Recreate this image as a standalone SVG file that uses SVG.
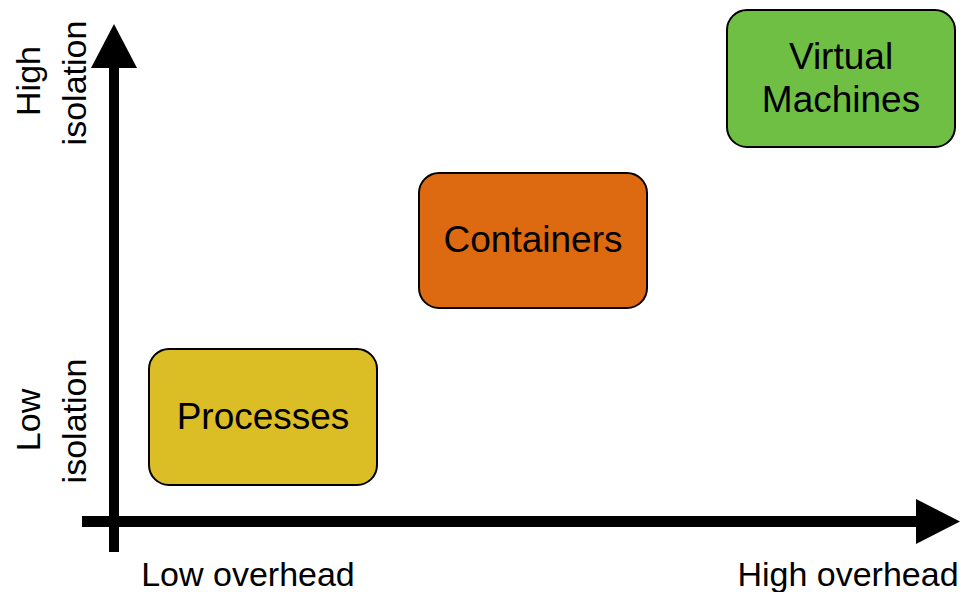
<svg xmlns="http://www.w3.org/2000/svg" width="963" height="592" viewBox="0 0 963 592">
<style>
.box{stroke:#000;stroke-width:2}
text{font-family:"Liberation Sans",Arial,sans-serif;fill:#000}
.lbl{font-size:37px;text-anchor:middle}
.ax{font-size:34px;text-anchor:middle}
</style>
<rect width="963" height="592" fill="#fff"/>
<g id="connectors">
<line x1="114" y1="552" x2="114" y2="66" stroke="#000" stroke-width="10"/>
<polygon points="114,24 137,68 91,68" fill="#000"/>
<line x1="82" y1="521.5" x2="918" y2="521.5" stroke="#000" stroke-width="11"/>
<polygon points="960,521.5 916,499 916,544" fill="#000"/>
</g>
<g id="processes">
<rect class="box" x="149" y="349" width="228" height="136" rx="20" fill="#dbbd26"/>
<text class="lbl" x="263" y="429">Processes</text>
</g>
<g id="containers">
<rect class="box" x="419" y="173" width="228" height="135" rx="20" fill="#dd6a10"/>
<text class="lbl" x="533" y="252">Containers</text>
</g>
<g id="vms">
<rect class="box" x="727" y="10" width="228" height="137" rx="20" fill="#6fbf44"/>
<text class="lbl" x="841" y="69">Virtual</text>
<text class="lbl" x="841" y="112">Machines</text>
</g>
<g id="labels">
<text class="ax" transform="translate(40,81) rotate(-90)">High</text>
<text class="ax" transform="translate(86,83) rotate(-90)">isolation</text>
<text class="ax" transform="translate(40,420) rotate(-90)">Low</text>
<text class="ax" transform="translate(86,421) rotate(-90)">isolation</text>
<text class="ax" x="248" y="586">Low overhead</text>
<text class="ax" x="848" y="586">High overhead</text>
</g>
</svg>
